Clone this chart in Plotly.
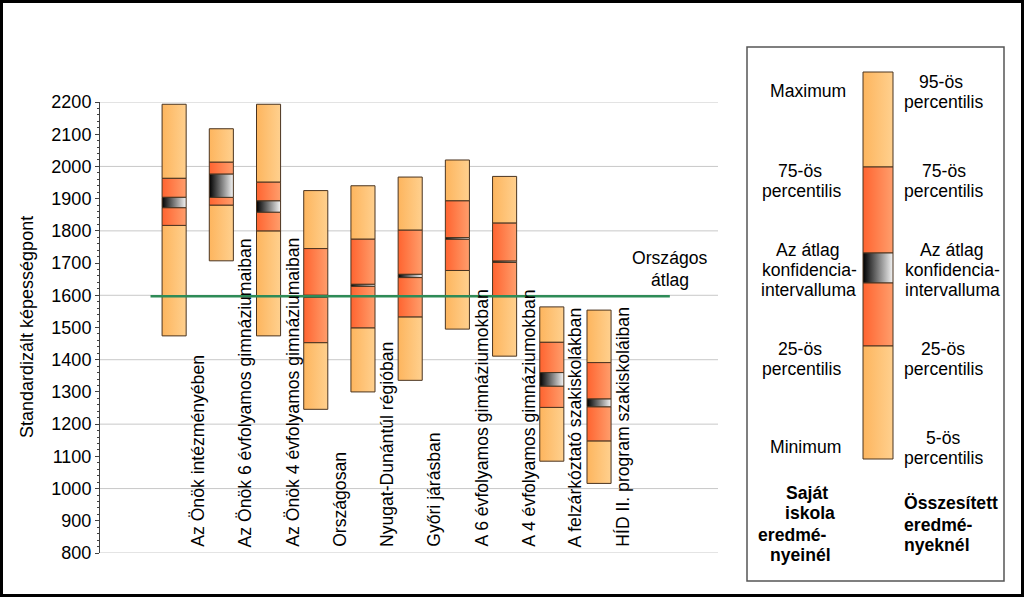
import plotly.graph_objects as go

# ---------------- data ----------------
categories = [
    "Az Önök intézményében",
    "Az Önök 6 évfolyamos gimnáziumaiban",
    "Az Önök 4 évfolyamos gimnáziumaiban",
    "Országosan",
    "Nyugat-Dunántúl régióban",
    "Győri járásban",
    "A 6 évfolyamos gimnáziumokban",
    "A 4 évfolyamos gimnáziumokban",
    "A felzárkóztató szakiskolákban",
    "HÍD II. program szakiskoláiban",
]
low_vals = [1474, 1707, 1474, 1246, 1300, 1336, 1495, 1411, 1085, 1016]   # minimum / 5th pct
q1_vals = [1817, 1880, 1800, 1453, 1499, 1533, 1677, 1596, 1252, 1148]
ci_lo_vals = [1872, 1904, 1858, 1594, 1628, 1655, 1774, 1702, 1318, 1254]
ci_hi_vals = [1904, 1976, 1893, 1600, 1634, 1665, 1779, 1706, 1360, 1278]
q3_vals = [1963, 2013, 1951, 1745, 1774, 1802, 1893, 1824, 1454, 1391]
high_vals = [2193, 2117, 2193, 1925, 1940, 1967, 2020, 1969, 1564, 1554]  # maximum / 95th pct
national_avg = 1597
y_range = [800, 2200]
grid_values = [800, 1000, 1200, 1400, 1600, 1800, 2000, 2200]

y_title = "Standardizált képességpont"
avg_label = ["Országos", "átlag"]
left_legend_lines = ["Maximum", "75-ös", "percentilis", "Az átlag", "konfidencia-",
                     "intervalluma", "25-ös", "percentilis", "Minimum"]
right_legend_lines = ["95-ös", "percentilis", "75-ös", "percentilis", "Az átlag",
                      "konfidencia-", "intervalluma", "25-ös", "percentilis", "5-ös",
                      "percentilis"]
left_caption = ["Saját", "iskola", "eredmé-", "nyeinél"]
right_caption = ["Összesített", "eredmé-", "nyeknél"]

# ---------------- layout positions (pixels) ----------------
left_pos = [(808, 91), (800, 171), (801, 191), (808, 250), (809, 270), (808, 290),
            (800, 349), (801, 369), (805, 447)]
right_pos = [(941, 82), (943, 102), (944, 171), (943, 191), (952, 250), (952, 270),
             (952, 290), (943, 349), (943, 369), (943, 438), (943, 458)]
left_cap_pos = [(807, 493), (810, 513), (792, 535), (800, 555)]
right_cap_y = [503, 525, 545]

# ---------------- style ----------------
FONT = "Arial, 'Liberation Sans', sans-serif"
LIGHT = [[0, "#FDB55E"], [1, "#FFD08E"]]
RED = [[0, "#FF6430"], [1, "#FF9E6C"]]
CI = [[0, "#000000"], [1, "#F4F4F4"]]
OUTLINE = "#4A3420"
HALF = 0.255
W, H = 1024, 597
FS = 17.6

fig = go.Figure()


def seg(x0, x1, y0, y1, cs, xa="x", ya="y"):
    fig.add_trace(go.Scatter(
        x=[x0, x1, x1, x0, x0], y=[y0, y0, y1, y1, y0],
        mode="lines", fill="toself",
        fillgradient=dict(type="horizontal", colorscale=cs),
        line=dict(color=OUTLINE, width=1),
        hoverinfo="skip", showlegend=False, xaxis=xa, yaxis=ya))


for i in range(len(categories)):
    x0, x1 = i - HALF, i + HALF
    seg(x0, x1, low_vals[i], q1_vals[i], LIGHT)
    seg(x0, x1, q3_vals[i], high_vals[i], LIGHT)
    seg(x0, x1, q1_vals[i], ci_lo_vals[i], RED)
    seg(x0, x1, ci_hi_vals[i], q3_vals[i], RED)
    seg(x0, x1, ci_lo_vals[i], ci_hi_vals[i], CI)

# national average line
fig.add_trace(go.Scatter(x=[-0.5, 10.5], y=[national_avg, national_avg], mode="lines",
                         line=dict(color="#2E8B57", width=2.5), hoverinfo="skip",
                         showlegend=False))

# legend sample bar (pixel coordinate subplot)
lx0, lx1 = 863, 893
seg(lx0, lx1, 72, 167, LIGHT, "x2", "y2")
seg(lx0, lx1, 167, 253, RED, "x2", "y2")
seg(lx0, lx1, 253, 283, CI, "x2", "y2")
seg(lx0, lx1, 283, 346, RED, "x2", "y2")
seg(lx0, lx1, 346, 459, LIGHT, "x2", "y2")


def px_ann(text, px, py, xanchor="center", bold=False, size=FS, angle=0):
    return dict(x=px / W, y=1 - py / H, xref="paper", yref="paper",
                text=f"<b>{text}</b>" if bold else text, showarrow=False,
                xanchor=xanchor, yanchor="middle", textangle=angle,
                font=dict(family=FONT, size=size, color="#000"))


ann = []
for i, c in enumerate(categories):
    ann.append(dict(x=i + 0.5, xref="x", y=(H - 549) / H, yref="paper", text=c,
                    textangle=-90, showarrow=False, xanchor="center", yanchor="bottom",
                    font=dict(family=FONT, size=FS, color="#000")))

for t, yy in zip(avg_label, [258, 280]):
    ann.append(dict(x=10.5, xref="x", y=1 - yy / H, yref="paper", text=t,
                    showarrow=False, xanchor="center", yanchor="middle",
                    font=dict(family=FONT, size=FS, color="#000")))
ann.append(px_ann(y_title, 27, 327, size=18, angle=-90))

for t, (px, py) in zip(left_legend_lines, left_pos):
    ann.append(px_ann(t, px, py))
for t, (px, py) in zip(right_legend_lines, right_pos):
    ann.append(px_ann(t, px, py))
for t, (px, py) in zip(left_caption, left_cap_pos):
    ann.append(px_ann(t, px, py, bold=True))
for t, py in zip(right_caption, right_cap_y):
    ann.append(px_ann(t, 902, py, xanchor="left", bold=True))

shapes = []
for g in grid_values:
    shapes.append(dict(type="line", xref="x domain", yref="y", x0=0, x1=1, y0=g, y1=g,
                       line=dict(color="#C8C8C8", width=1), layer="below"))
shapes += [
    dict(type="rect", xref="paper", yref="paper", x0=747 / W, x1=1004 / W,
         y0=1 - 581 / H, y1=1 - 47 / H,
         line=dict(color="#555555", width=1.5), fillcolor="rgba(0,0,0,0)"),
    dict(type="rect", xref="paper", yref="paper", x0=1.5 / W, x1=1 - 1.5 / W,
         y0=1.5 / H, y1=1 - 1.5 / H,
         line=dict(color="#000000", width=3), fillcolor="rgba(0,0,0,0)"),
]

fig.update_layout(
    width=W, height=H, margin=dict(l=0, r=0, t=0, b=0, pad=0, autoexpand=False),
    paper_bgcolor="white", plot_bgcolor="rgba(0,0,0,0)",
    font=dict(family=FONT, size=FS, color="#000"),
    xaxis=dict(domain=[100 / W, 718 / W], range=[-1.57, 11.52], visible=False,
               fixedrange=True, anchor="y"),
    yaxis=dict(domain=[(H - 553) / H, (H - 102) / H], range=y_range, tick0=800, dtick=100,
               anchor="x", showgrid=False, zeroline=False, showline=True,
               linecolor="#404040", linewidth=1,
               ticks="outside", ticklen=4, tickcolor="#404040",
               minor=dict(dtick=20, ticks="outside", ticklen=2, tickcolor="#404040",
                          showgrid=False),
               tickfont=dict(family=FONT, size=18, color="#000")),
    xaxis2=dict(domain=[0, 1], range=[0, W], visible=False, anchor="y2"),
    yaxis2=dict(domain=[0, 1], range=[H, 0], visible=False, anchor="x2"),
    annotations=ann, shapes=shapes,
)

fig.write_html("out.html", config={"displayModeBar": False},
               post_script="document.body.style.margin='0';document.body.style.overflow='hidden';")
